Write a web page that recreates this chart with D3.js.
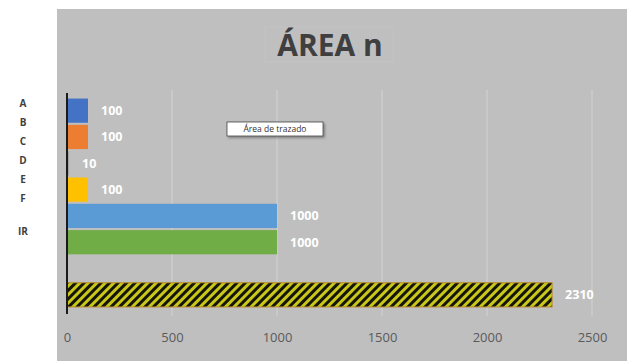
<!DOCTYPE html>
<html>
<head>
<meta charset="utf-8">
<script src="https://cdn.jsdelivr.net/npm/d3@7"></script>
<style>
  html, body { margin: 0; padding: 0; background: #ffffff; }
  svg { display: block; }
</style>
</head>
<body>
<svg id="chart" width="627" height="361"></svg>
<script>
// Chart content
const title = "ÁREA n";
const sideLabels = ["A", "B", "C", "D", "E", "F"];
const sideLabelIR = "IR";
const slots = ["s1", "s2", "s3", "s4", "s5", "s6", "s7", "s8"];
const values = [100, 100, 10, 100, 1000, 1000, null, 2310];
const barColors = ["#4472c4", "#ed7d31", "#a5a5a5", "#ffc000", "#5b9bd5", "#70ad47", null, "hatch"];
const xTicks = [0, 500, 1000, 1500, 2000, 2500];
const tipText = "Área de trazado";

const W = 627, H = 361;
const svg = d3.select("#chart");

// diagonal black / yellow stripes for the total bar
const defs = svg.append("defs");
const pat = defs.append("pattern")
  .attr("id", "hatch")
  .attr("patternUnits", "userSpaceOnUse")
  .attr("width", 6).attr("height", 6)
  .attr("patternTransform", "rotate(45)");
pat.append("rect").attr("width", 6).attr("height", 6).attr("fill", "#c9c81a");
pat.append("rect").attr("width", 3).attr("height", 6).attr("fill", "#151505");

const shadow = defs.append("filter").attr("id", "tipShadow")
  .attr("x", "-20%").attr("y", "-40%").attr("width", "150%").attr("height", "200%");
shadow.append("feDropShadow").attr("dx", 1.5).attr("dy", 1.5)
  .attr("stdDeviation", 1).attr("flood-color", "#000").attr("flood-opacity", 0.35);

// chart area background
svg.append("rect").attr("x", 57).attr("y", 9).attr("width", W - 57).attr("height", H - 9)
  .attr("fill", "#bfbfbf");

const x = d3.scaleLinear().domain([0, 2500]).range([67, 592]);
const y = d3.scaleBand().domain(slots).range([97.5, 308]).paddingInner(0.08).paddingOuter(0.04);

// vertical gridlines
svg.append("g").selectAll("line").data(xTicks.slice(1)).join("line")
  .attr("x1", d => x(d)).attr("x2", d => x(d))
  .attr("y1", 90).attr("y2", 316)
  .attr("stroke", "#d3d3d3").attr("stroke-width", 1);

// title
svg.append("rect").attr("x", 265).attr("y", 27).attr("width", 128).attr("height", 35)
  .attr("fill", "none").attr("stroke", "#c6c6c6").attr("stroke-width", 0.7);
svg.append("text").attr("x", 330).attr("y", 56).attr("text-anchor", "middle")
  .attr("font-family", "'Open Sans', sans-serif").attr("font-weight", 700)
  .attr("font-size", 30).attr("fill", "#3f3f3f").text(title);

// bars
const rows = slots.map((s, i) => ({ slot: s, value: values[i], color: barColors[i] }))
  .filter(d => d.value != null);

svg.append("g").selectAll("rect").data(rows).join("rect")
  .attr("x", x(0))
  .attr("y", d => y(d.slot))
  .attr("width", d => x(d.value) - x(0))
  .attr("height", y.bandwidth())
  .attr("fill", d => d.color === "hatch" ? "url(#hatch)" : d.color)
  .attr("stroke", d => d.color === "hatch" ? "#b98a2a" : "none")
  .attr("stroke-width", 1);

// value labels
svg.append("g").selectAll("text").data(rows).join("text")
  .attr("x", d => x(d.value) + 13)
  .attr("y", d => y(d.slot) + y.bandwidth() / 2)
  .attr("dy", "0.35em")
  .attr("font-family", "'Open Sans', sans-serif").attr("font-weight", 700)
  .attr("font-size", 12.5).attr("fill", "#ffffff")
  .text(d => d.value);

// vertical axis line
svg.append("line").attr("x1", x(0)).attr("x2", x(0)).attr("y1", 93).attr("y2", 314)
  .attr("stroke", "#1a1a1a").attr("stroke-width", 2);

// bottom axis labels
const axis = d3.axisBottom(x).tickValues(xTicks).tickSize(0).tickPadding(0).tickFormat(d3.format("d"));
const gAxis = svg.append("g").attr("transform", "translate(0,333)").call(axis);
gAxis.select(".domain").remove();
gAxis.selectAll("text")
  .attr("font-family", "'Open Sans', sans-serif").attr("font-size", 13)
  .attr("fill", "#5a5a5a");

// side letters
const side = d3.scalePoint().domain(sideLabels).range([103, 198]);
svg.append("g").selectAll("text").data(sideLabels).join("text")
  .attr("x", 23).attr("y", d => side(d)).attr("dy", "0.35em")
  .attr("text-anchor", "middle")
  .attr("font-family", "'Open Sans', sans-serif").attr("font-weight", 700)
  .attr("font-size", 10).attr("fill", "#3f3f3f").text(d => d);
svg.append("text").attr("x", 23).attr("y", 231).attr("dy", "0.35em")
  .attr("text-anchor", "middle")
  .attr("font-family", "'Open Sans', sans-serif").attr("font-weight", 700)
  .attr("font-size", 10).attr("fill", "#3f3f3f").text(sideLabelIR);

// hover tip
const tip = svg.append("g").attr("transform", "translate(227,122)");
tip.append("rect").attr("width", 96).attr("height", 14)
  .attr("fill", "#ffffff").attr("stroke", "#444").attr("stroke-width", 0.8)
  .attr("filter", "url(#tipShadow)");
tip.append("text").attr("x", 48).attr("y", 7).attr("dy", "0.35em").attr("text-anchor", "middle")
  .attr("font-family", "'Open Sans', sans-serif").attr("font-size", 8.5)
  .attr("fill", "#333").text(tipText);
</script>
</body>
</html>
